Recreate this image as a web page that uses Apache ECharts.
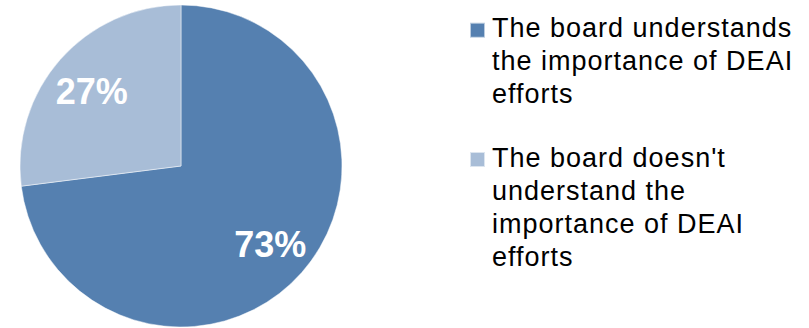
<!DOCTYPE html>
<html>
<head>
<meta charset="utf-8">
<style>
  html, body { margin: 0; padding: 0; background: #ffffff; }
  #chart { width: 809px; height: 328px; }
  /* legend text is set slightly loose */
  #chart text[style*="27px"] { letter-spacing: 1px; }
</style>
<script src="https://cdn.jsdelivr.net/npm/echarts@6/dist/echarts.min.js"></script>
</head>
<body>
<div id="chart"></div>
<script>
// Survey answers: does the board understand the importance of DEAI efforts?
const categories = [
  'The board understands the importance of DEAI efforts',
  "The board doesn't understand the importance of DEAI efforts"
];
const shares = [73, 27];
// Legend text broken over lines as it is set beside the pie
const legendLines = [
  ['The board understands', 'the importance of DEAI', 'efforts'],
  ["The board doesn't", 'understand the', 'importance of DEAI', 'efforts']
];
const colors = ['#5580B0', '#A8BDD7'];

const FONT = '"Liberation Sans", Arial, sans-serif';
const LINE_H = 33;
const CX = 181, CY = 166, R = 161;

const pieData = categories.map((name, i) => ({
  name: name,
  value: shares[i],
  itemStyle: { color: colors[i] }
}));

// One legend per entry; top padding lifts the swatch level with the first text line
const legends = categories.map((name, i) => {
  const n = legendLines[i].length;
  const padTop = (n - 1) * LINE_H - 4;
  const blockH = padTop + n * LINE_H;
  const iconCenter = [30.2, 159.5][i];
  return {
    show: true,
    orient: 'vertical',
    left: 469,
    top: iconCenter - blockH / 2,
    padding: 0,
    itemWidth: 15,
    itemHeight: 15,
    icon: 'rect',
    selectedMode: false,
    data: [name],
    formatter: () => legendLines[i].join('\n'),
    textStyle: {
      fontFamily: FONT,
      fontSize: 27,
      color: '#000000',
      lineHeight: LINE_H,
      padding: [padTop, 0, 0, 2],
      rich: { t: {} }
    }
  };
});

const chart = echarts.init(document.getElementById('chart'), null, { renderer: 'svg' });
chart.setOption({
  animation: false,
  legend: legends,
  series: [
    {
      type: 'pie',
      center: [CX, CY],
      radius: R,
      startAngle: 90,
      clockwise: true,
      silent: true,
      data: pieData,
      itemStyle: { borderColor: 'rgba(255,255,255,0.6)', borderWidth: 0.8 },
      label: { show: false },
      labelLine: { show: false }
    },
    {
      // transparent ring that carries the percentage labels further out than mid-radius
      type: 'pie',
      center: [CX, CY],
      radius: [R * 0.44, R],
      startAngle: 90,
      clockwise: true,
      silent: true,
      data: pieData.map(d => ({ name: d.name, value: d.value })),
      itemStyle: { color: 'rgba(0,0,0,0)' },
      label: {
        show: true,
        position: 'inside',
        formatter: '{c}%',
        color: '#ffffff',
        fontFamily: FONT,
        fontWeight: 'bold',
        fontSize: 36
      },
      labelLayout: (p) => (p.dataIndex === 1 ? { dy: 4 } : {}),
      labelLine: { show: false }
    }
  ]
});
</script>
</body>
</html>
